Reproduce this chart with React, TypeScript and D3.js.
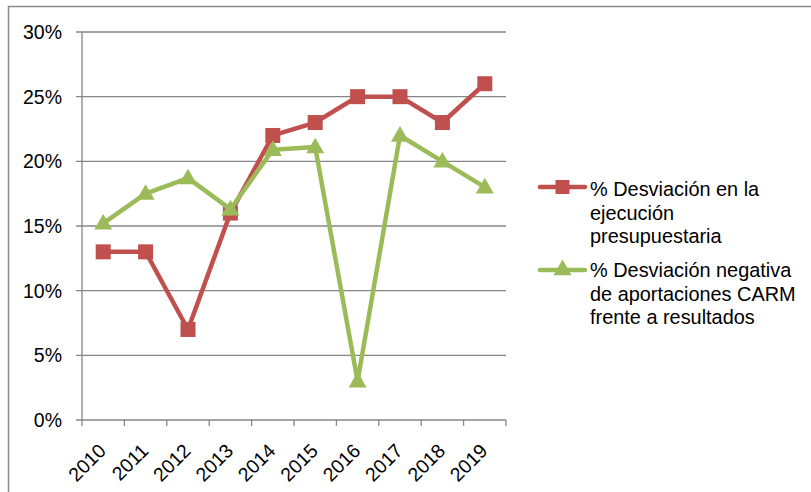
import React from "react";
import * as d3 from "d3";

const years = ["2010", "2011", "2012", "2013", "2014", "2015", "2016", "2017", "2018", "2019"];
const desviacionEjecucion = [13, 13, 7, 16, 22, 23, 25, 25, 23, 26];
const desviacionAportaciones = [15.2, 17.5, 18.7, 16.3, 20.9, 21.1, 3, 22, 20, 18];
const yTicks = [0, 5, 10, 15, 20, 25, 30];
const legendRed = ["% Desviación en la", "ejecución", "presupuestaria"];
const legendGreen = ["% Desviación negativa", "de aportaciones CARM", "frente a resultados"];

const RED = "#C0504D";
const GREEN = "#9BBB59";
const GRID = "#868686";
const FONT = "'Liberation Sans', Arial, sans-serif";

export default function App() {
  const W = 811, H = 492;
  const x0 = 82, x1 = 506, yTop = 32, yBot = 420;
  const x = d3.scaleBand<string>().domain(years).range([x0, x1]).padding(0);
  const y = d3.scaleLinear().domain([0, 30]).range([yBot, yTop]);
  const cx = (d: string) => (x(d) as number) + x.bandwidth() / 2;
  const line = d3.line<number>().x((_, i) => cx(years[i])).y((v) => y(v));
  const sq = 15;
  const tri = d3.symbol().type(d3.symbolTriangle).size(140);

  const triPath = (px: number, py: number, key: string) => (
    <path key={key} d={tri() as string} transform={`translate(${px},${py + 1})`} fill={GREEN} />
  );

  const boundaries = [...years.map((d) => x(d) as number), x1];

  return (
    <svg width={W} height={H} style={{ position: "absolute", left: 0, top: 0, background: "#fff" }} fontFamily={FONT}>
      <rect x={8.5} y={6.5} width={W + 10} height={H + 10} fill="none" stroke="#8a8a8a" strokeWidth={1.5} />
      {yTicks.map((t) => (
        <g key={t}>
          <line x1={x0 - 6} x2={x1} y1={y(t)} y2={y(t)} stroke={GRID} strokeWidth={1.3} />
          <text x={62} y={y(t)} textAnchor="end" dominantBaseline="central" fontSize={19.5} fill="#000">
            {t}%
          </text>
        </g>
      ))}
      <line x1={x0} x2={x0} y1={yTop} y2={yBot} stroke={GRID} strokeWidth={1.3} />
      {boundaries.map((b, i) => (
        <line key={i} x1={b} x2={b} y1={yBot} y2={yBot + 6} stroke={GRID} strokeWidth={1.3} />
      ))}
      {years.map((d) => (
        <text
          key={d}
          transform={`translate(${cx(d) + 4},${yBot + 32}) rotate(-45)`}
          textAnchor="end"
          fontSize={19.5}
          fill="#000"
        >
          {d}
        </text>
      ))}
      <path d={line(desviacionEjecucion) as string} fill="none" stroke={RED} strokeWidth={4.5} strokeLinejoin="round" />
      {desviacionEjecucion.map((v, i) => (
        <rect key={i} x={cx(years[i]) - sq / 2} y={y(v) - sq / 2} width={sq} height={sq} fill={RED} />
      ))}
      <path d={line(desviacionAportaciones) as string} fill="none" stroke={GREEN} strokeWidth={4.5} strokeLinejoin="round" />
      {desviacionAportaciones.map((v, i) => triPath(cx(years[i]), y(v), "t" + i))}

      <line x1={540} x2={585} y1={187} y2={187} stroke={RED} strokeWidth={4.5} strokeLinecap="round" />
      <rect x={562.5 - 7} y={187 - 7} width={14} height={14} fill={RED} />
      {legendRed.map((s, i) => (
        <text key={s} x={590} y={189 + i * 23.5} dominantBaseline="central" fontSize={19.9} fill="#000">
          {s}
        </text>
      ))}
      <line x1={540} x2={585} y1={270} y2={270} stroke={GREEN} strokeWidth={4.5} strokeLinecap="round" />
      {triPath(562.5, 269, "lt")}
      {legendGreen.map((s, i) => (
        <text key={s} x={590} y={270 + i * 23.5} dominantBaseline="central" fontSize={19.9} fill="#000">
          {s}
        </text>
      ))}
    </svg>
  );
}
